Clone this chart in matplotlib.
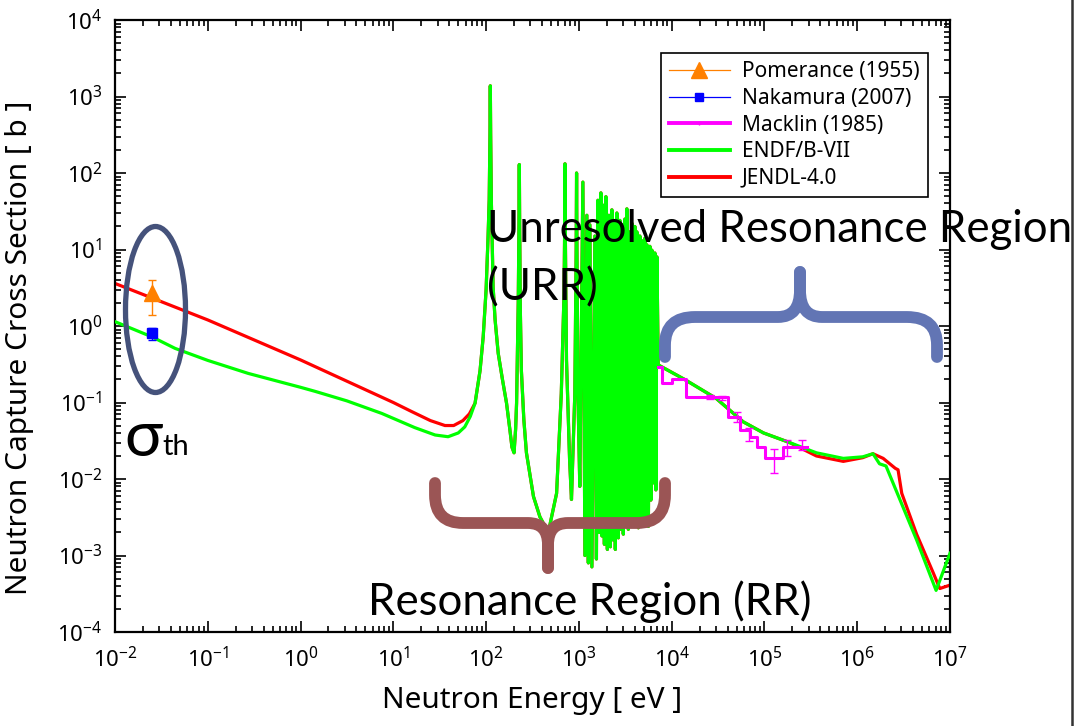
import numpy as np
import matplotlib
matplotlib.use("Agg")
import matplotlib.pyplot as plt
from matplotlib.patches import Ellipse, PathPatch
from matplotlib.path import Path
from matplotlib.lines import Line2D
from matplotlib.transforms import Affine2D
from matplotlib.ticker import LogLocator, NullFormatter

plt.rcParams['font.family'] = ['Noto Sans', 'DejaVu Sans']
plt.rcParams['mathtext.fontset'] = 'custom'
plt.rcParams['mathtext.rm'] = 'Noto Sans'
plt.rcParams['mathtext.it'] = 'Noto Sans'

W, H = 1075, 726

# ---- data (energy in eV, cross section in barn) ----
# thermal / 1/v region
jendl_low_e = [0.01, 0.1, 1, 3.16, 10, 15.8, 25.1, 36, 44.7, 56.2, 66]
jendl_low_xs = [3.6, 1.2, 0.36, 0.19, 0.10, 0.076, 0.058, 0.050, 0.050, 0.058, 0.071]
endf_low_e = [0.01, 0.0251, 0.0444, 0.1, 0.273, 1, 1.43, 3.16, 7.5, 17, 28.2, 38.9, 50.1, 58.9, 67.6]
endf_low_xs = [1.14, 0.72, 0.51, 0.355, 0.24, 0.158, 0.14, 0.105, 0.072, 0.047,
               0.0376, 0.0357, 0.040, 0.048, 0.066]

# resolved resonances (both evaluations nearly identical)
rr_e = [76, 86, 93, 100, 105, 108, 110, 111, 112, 114, 119, 125, 135, 150, 166,
        180, 190, 200, 208, 213, 222, 226, 228, 230, 234, 240, 255, 272, 324,
        380, 468, 575, 646, 692, 703, 708, 713, 735, 794, 832, 904, 935, 944,
        953, 977, 1023]
rr_xs = [0.098, 0.26, 0.72, 3.0, 14.8, 45, 300, 1380, 300, 40, 3.24, 1.2, 0.44,
         0.2, 0.098, 0.045, 0.026, 0.022, 0.045, 0.098, 2.0, 20, 129, 20, 1.5,
         0.26, 0.06, 0.022, 0.0059, 0.0032, 0.0020, 0.0065, 0.13, 2.7, 20, 132,
         20, 0.36, 0.018, 0.0054, 0.13, 10, 100, 10, 0.13, 0.008]

# dense resonance forest 1 - 7 keV (peak / dip sequence)
forest_e = [1104, 1161, 1219, 1265, 1314, 1381, 1487, 1545, 1603, 1664,
            1727, 1770, 1814, 1884, 1955, 2029, 2106, 2185, 2268, 2324,
            2382, 2472, 2566, 2662, 2764, 2833, 2903, 3013, 3130, 3208,
            3289, 3413, 3540, 3630, 3722, 3862, 4010, 4110, 4217, 4375,
            4540, 4656, 4774, 4955, 5140, 5272, 5405, 5610, 5821, 5970,
            6121, 6353, 6592, 6761, 6934]
forest_xs = [76, 1.0e-3, 28, 8e-4, 21, 7.1e-4, 15, 9e-4, 44, 2.0e-3,
             55, 1.8e-3, 38, 1.4e-3, 49, 1.2e-3, 28, 1.3e-3, 33, 1.6e-3,
             24, 1.2e-3, 30, 1.7e-3, 24, 2.2e-3, 21, 1.9e-3, 25, 2.5e-3,
             34, 2.2e-3, 17, 2.9e-3, 22, 2.4e-3, 20, 2.8e-3, 17, 2.3e-3,
             15, 2.7e-3, 13, 2.5e-3, 14, 2.9e-3, 11.5, 2.4e-3, 11, 5.3e-3,
             9.8, 8.9e-3, 9.0, 7.2e-3, 8.0]

# unresolved resonance region and fast region
urr_e = [7160, 13800, 30200, 58900, 97700, 186000]
urr_xs = [0.31, 0.20, 0.113, 0.056, 0.040, 0.030]
endf_high_e = [363000, 708000, 1.148e6, 1.479e6, 1.738e6, 2.042e6, 4.365e6, 7.08e6, 1e7]
endf_high_xs = [0.022, 0.0186, 0.0195, 0.0214, 0.0158, 0.0148, 0.0016, 3.5e-4, 1.07e-3]
jendl_high_e = [363000, 708000, 1.148e6, 1.479e6, 1.905e6, 2.57e6, 2.754e6,
                3.02e6, 4.365e6, 6.61e6, 7.76e6, 1e7]
jendl_high_xs = [0.020, 0.017, 0.019, 0.0214, 0.0186, 0.0138, 0.0132,
                 0.0065, 0.0019, 5.9e-4, 3.7e-4, 4.1e-4]

# measurements
pomerance_e, pomerance_xs, pomerance_err = [0.0253], [2.7], [1.3]
nakamura_e, nakamura_xs, nakamura_err = [0.0253], [0.80], [0.15]
macklin_edges = [7100, 7800, 10000, 14200, 40000, 54000, 70000, 83000, 101000, 158000, 290000]
macklin_xs = [0.29, 0.18, 0.20, 0.118, 0.065, 0.044, 0.035, 0.026, 0.019, 0.026]
macklin_pt_e = [25700, 34500, 50000, 69000, 126000, 176000, 257000]
macklin_pt_xs = [0.118, 0.115, 0.065, 0.039, 0.0185, 0.026, 0.028]
macklin_pt_err = [0.006, 0.006, 0.010, 0.008, 0.0065, 0.006, 0.004]

x_exps = list(range(-2, 8))
y_exps = list(range(-4, 5))

# ---- build curves ----
endf_e = np.concatenate([endf_low_e, rr_e, forest_e, urr_e, endf_high_e])
endf_xs = np.concatenate([endf_low_xs, rr_xs, forest_xs, urr_xs, endf_high_xs])
jendl_e = np.concatenate([jendl_low_e, rr_e, forest_e, urr_e, jendl_high_e])
jendl_xs = np.concatenate([jendl_low_xs, rr_xs, forest_xs, urr_xs, jendl_high_xs])

fig = plt.figure(figsize=(W / 100, H / 100), dpi=100)
ax = fig.add_axes([115 / W, 1 - 632 / H, 835 / W, 612 / H])
px = Affine2D().scale(1 / W, -1 / H).translate(0, 1) + fig.transFigure

ax.plot(jendl_e, jendl_xs, color='#ff0000', lw=2.3, zorder=2)
ax.plot(endf_e, endf_xs, color='#00ff00', lw=2.3, zorder=3)

mack_vals = macklin_xs + [macklin_xs[-1]]
ax.step(macklin_edges, mack_vals, where='post', color='#ff00ff', lw=2.2, zorder=4)
ax.errorbar(macklin_pt_e, macklin_pt_xs, yerr=macklin_pt_err, fmt='none',
            ecolor='#ff00ff', elinewidth=1, capsize=3, zorder=4)

ax.errorbar(pomerance_e, pomerance_xs, yerr=pomerance_err, fmt='none',
            ecolor='#ff8000', elinewidth=1, capsize=3, zorder=5)
ax.errorbar(nakamura_e, nakamura_xs, yerr=nakamura_err, fmt='none',
            ecolor='#0000ff', elinewidth=1, capsize=3, zorder=5)
ax.plot(pomerance_e, pomerance_xs, '^', color='#ff8000', ms=11, zorder=6)
ax.plot(nakamura_e, nakamura_xs, 's', color='#0000ff', ms=7, zorder=6)

ax.set_xscale('log')
ax.set_yscale('log')
ax.set_xlim(1e-2, 1e7)
ax.set_ylim(1e-4, 1e4)

ax.set_xticks([10.0 ** e for e in x_exps])
ax.set_xticklabels(['10$^{%d}$' % e for e in x_exps])
ax.set_yticks([10.0 ** e for e in y_exps])
ax.set_yticklabels(['10$^{%d}$' % e for e in y_exps])
ax.xaxis.set_minor_locator(LogLocator(base=10, subs=np.arange(2, 10), numticks=20))
ax.yaxis.set_minor_locator(LogLocator(base=10, subs=np.arange(2, 10), numticks=20))
ax.xaxis.set_minor_formatter(NullFormatter())
ax.yaxis.set_minor_formatter(NullFormatter())
ax.tick_params(which='both', direction='in', top=True, right=True, width=1.2, color='black')
ax.tick_params(which='major', length=8, labelsize=16)
ax.tick_params(axis='x', which='major', pad=11)
ax.tick_params(axis='y', which='major', pad=9)
ax.tick_params(which='minor', length=4.5)
for s in ax.spines.values():
    s.set_linewidth(1.6)

ax.set_xlabel('Neutron Energy [ eV ]', fontsize=21.5, labelpad=10)
ax.set_ylabel('Neutron Capture Cross Section [ b ]', fontsize=21.5)
ax.yaxis.set_label_coords(-0.097, 0.465)

handles = [
    Line2D([], [], color='#ff8000', lw=0.9, marker='^', ms=11),
    Line2D([], [], color='#0000ff', lw=0.9, marker='s', ms=6),
    Line2D([], [], color='#ff00ff', lw=2.8, marker='+', ms=3),
    Line2D([], [], color='#00ff00', lw=2.8),
    Line2D([], [], color='#ff0000', lw=2.8),
]
labels = ['Pomerance (1955)', 'Nakamura (2007)', 'Macklin (1985)', 'ENDF/B-VII', 'JENDL-4.0']
leg = ax.legend(handles, labels, loc='upper right', bbox_to_anchor=(928 / W, 1 - 53 / H),
                bbox_transform=fig.transFigure, fontsize=15, fancybox=False,
                framealpha=1, edgecolor='black', handlelength=2.9, labelspacing=0.27,
                borderpad=0.4, handletextpad=0.6, borderaxespad=0)
leg.get_frame().set_linewidth(1.2)
leg.set_zorder(10)

# ---- annotations (figure pixel coordinates) ----
ell = Ellipse((155.5, 309.5), 60, 166, fill=False, edgecolor='#45527b', lw=3.8,
              transform=px, zorder=20)
fig.add_artist(ell)


def brace(pts, color):
    codes = [Path.MOVETO, Path.LINETO, Path.CURVE3, Path.CURVE3, Path.LINETO,
             Path.CURVE3, Path.CURVE3, Path.LINETO]
    patch = PathPatch(Path(pts, codes), fill=False, edgecolor=color, lw=8.5,
                      capstyle='round', joinstyle='round', transform=px, zorder=20)
    fig.add_artist(patch)


# blue brace (URR), tip up
brace([(665, 357), (665, 345), (665, 317), (695, 317), (778, 317),
       (800, 317), (800, 290), (800, 272)], '#6275b4')
brace([(937, 357), (937, 345), (937, 317), (907, 317), (822, 317),
       (800, 317), (800, 290), (800, 272)], '#6275b4')
# brown brace (RR), tip down
brace([(435, 483), (435, 495), (435, 523), (463, 523), (528, 523),
       (548, 523), (548, 545), (548, 568)], '#9b5555')
brace([(665, 483), (665, 495), (665, 523), (637, 523), (568, 523),
       (548, 523), (548, 545), (548, 568)], '#9b5555')

afont = ['Lato', 'DejaVu Sans']
fig.text(487 / W, 1 - 242 / H, 'Unresolved Resonance Region', fontsize=31.5,
         family=afont, ha='left', va='baseline', zorder=21)
fig.text(487 / W, 1 - 300 / H, '(URR)', fontsize=31.5, family=afont,
         ha='left', va='baseline', zorder=21)
fig.text(368 / W, 1 - 615 / H, 'Resonance Region (RR)', fontsize=31.5, family=afont,
         ha='left', va='baseline', zorder=21)
fig.text(124 / W, 1 - 456 / H, 'σ', fontsize=46, family=afont,
         ha='left', va='baseline', zorder=21)
fig.text(162 / W, 1 - 455 / H, 'th', fontsize=21, family=afont,
         ha='left', va='baseline', zorder=21)

fig.add_artist(Line2D([1072, 1072], [0, H], color='#333333', lw=1.8, transform=px))

fig.savefig('out.png', dpi=100)
